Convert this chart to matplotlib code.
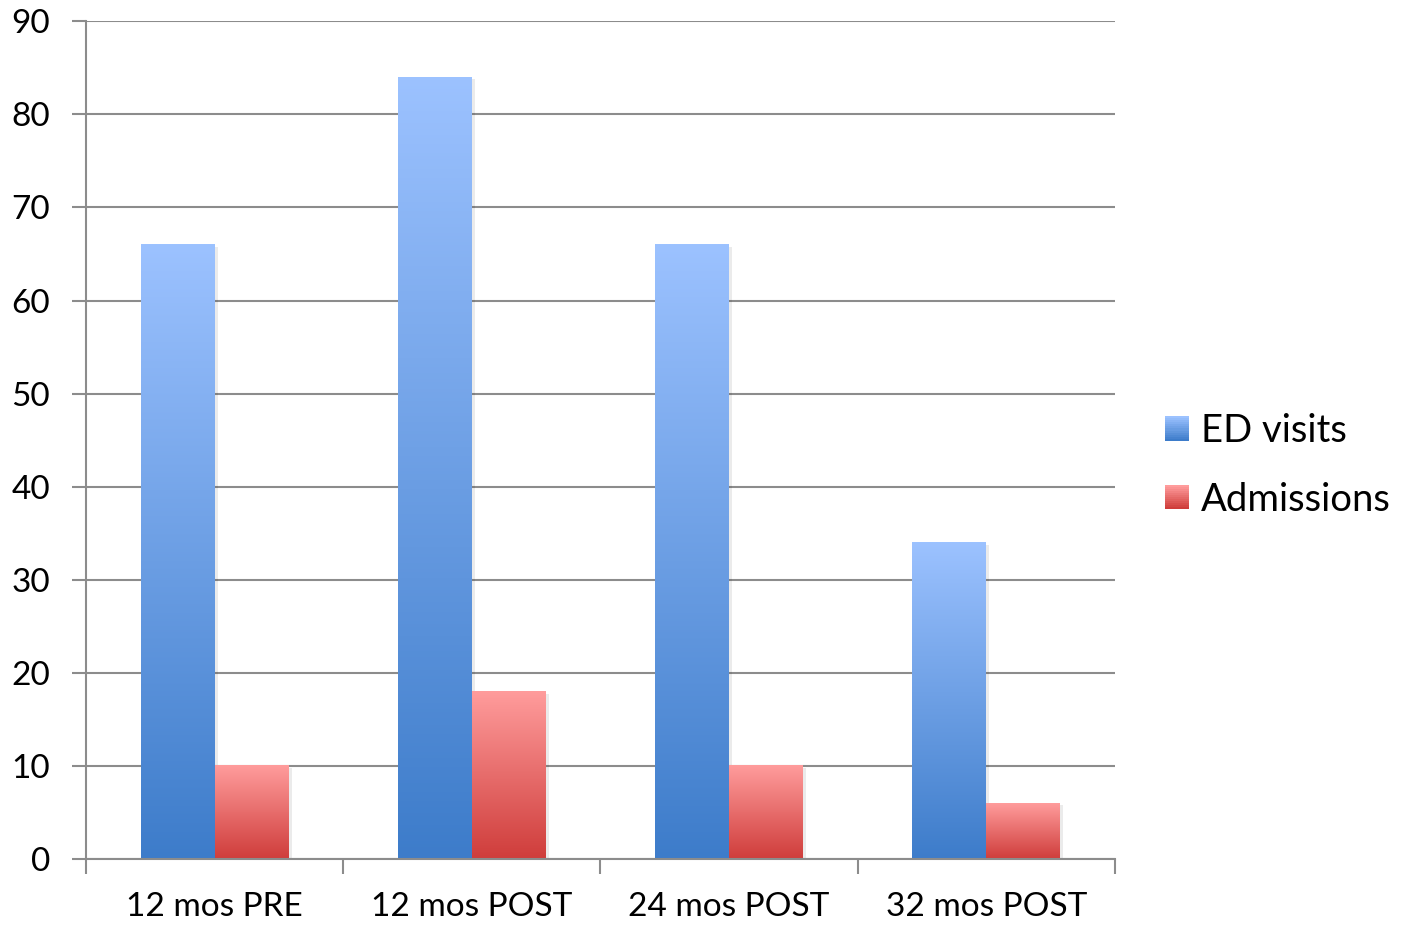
import numpy as np
import matplotlib.pyplot as plt
from matplotlib.colors import LinearSegmentedColormap
from matplotlib.patches import Rectangle
from matplotlib.legend_handler import HandlerBase

plt.rcParams['font.family'] = ['Lato', 'DejaVu Sans']

categories = ['12 mos PRE', '12 mos POST', '24 mos POST', '32 mos POST']
ed_visits = [66, 84, 66, 34]
admissions = [10, 18, 10, 6]

# top colour, bottom colour for each series
blue_grad = ['#9cc2ff', '#3d7cca']
red_grad = ['#ff9c9c', '#cf3d3b']

GRID = '#8c8c8c'
FS = 24


def gradient_bars(ax, bars, colors):
    cmap = LinearSegmentedColormap.from_list('g', [colors[1], colors[0]])
    grad = np.linspace(0, 1, 256).reshape(-1, 1)
    for b in bars:
        x, y, w, h = b.get_x(), b.get_y(), b.get_width(), b.get_height()
        # faint drop shadow
        ax.add_patch(Rectangle((x + 0.012, y - 0.25), w, h, color='k',
                               alpha=0.08, lw=0, zorder=1.5))
        ax.imshow(grad, cmap=cmap, extent=(x, x + w, y, y + h),
                  origin='lower', aspect='auto', zorder=2)
        b.set_visible(False)


class GradientSquare(HandlerBase):
    def __init__(self, colors):
        super().__init__()
        self.colors = colors

    def create_artists(self, legend, orig, xd, yd, width, height, fontsize, trans):
        cmap = LinearSegmentedColormap.from_list('g', [self.colors[1], self.colors[0]])
        n = 12
        side = 17.5
        x0 = xd + (width - side) / 2
        y0 = yd + (height - side) / 2
        arts = []
        for i in range(n):
            r = Rectangle((x0, y0 + side * i / n), side, side / n + 0.3,
                          facecolor=cmap(i / (n - 1)), lw=0, transform=trans)
            arts.append(r)
        return arts


fig = plt.figure(figsize=(14.04, 9.25), dpi=100)
ax = fig.add_axes([0.0613, 0.0714, 0.7328, 0.9056])

x = np.arange(len(categories))
w = 0.287
b1 = ax.bar(x - w / 2, ed_visits, w, zorder=2)
b2 = ax.bar(x + w / 2, admissions, w, zorder=2)
gradient_bars(ax, b1, blue_grad)
gradient_bars(ax, b2, red_grad)

ax.set_xlim(-0.5, 3.5)
ax.set_ylim(0, 90)
ax.set_yticks(range(0, 91, 10))
ax.yaxis.grid(True, color=GRID, lw=1.5, zorder=0)
ax.set_axisbelow(True)

ax.set_xticks(np.arange(-0.5, 4, 1))
ax.set_xticklabels([])
ax.set_xticks(x, minor=True)
ax.set_xticklabels(categories, minor=True)
ax.tick_params(axis='x', which='minor', length=0, pad=24, labelsize=FS)
ax.tick_params(axis='x', which='major', length=11, width=1.5, color=GRID, direction='out')
ax.tick_params(axis='y', length=10, width=1.5, color=GRID, labelsize=FS, pad=16)

for s in ['top', 'right']:
    ax.spines[s].set_visible(False)
for s in ['left', 'bottom']:
    ax.spines[s].set_color(GRID)
    ax.spines[s].set_linewidth(1.5)

h1 = Rectangle((0, 0), 1, 1)
h2 = Rectangle((0, 0), 1, 1)
fig.legend([h1, h2], ['ED visits', 'Admissions'],
           handler_map={h1: GradientSquare(blue_grad), h2: GradientSquare(red_grad)},
           loc='center left', bbox_to_anchor=(0.805, 0.497), frameon=False,
           fontsize=27.5, handlelength=0.66, handletextpad=0.3, labelspacing=0.86)

fig.savefig('out.png', dpi=100)
